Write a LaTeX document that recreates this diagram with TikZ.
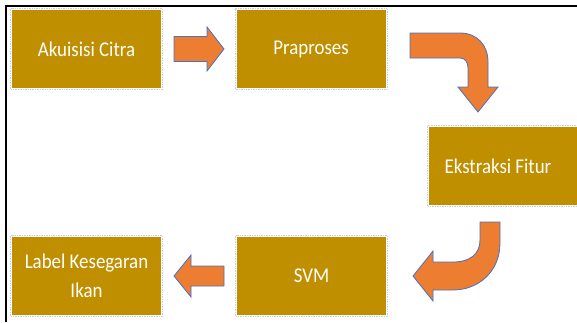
\documentclass[tikz,border=0pt]{standalone}
\usepackage{fontspec}
\setmainfont{Carlito}[FakeStretch=0.9]
\definecolor{boxgold}{RGB}{191,143,0}
\definecolor{arroworange}{RGB}{237,125,49}
\definecolor{arrowedge}{RGB}{68,114,196}
\definecolor{halo}{RGB}{196,206,222}
\begin{document}
\begin{tikzpicture}[x=1pt,y=-1pt,
  stepbox/.style={fill=boxgold, text=white, minimum width=149pt, minimum height=78pt,
    inner sep=0pt, outer sep=0pt, align=center, font=\fontsize{21}{29}\selectfont},
  haloline/.style={draw=halo, densely dotted, line width=0.7pt},
  blockarrow/.style={fill=arroworange, draw=arrowedge, line width=0.8pt, line join=miter}]
\useasboundingbox (0,0) rectangle (577,322);

% frame
\draw[line width=2.4pt, line join=miter] (6,322) -- (6,5.8) -- (577,5.8);

% process steps
\node[stepbox] (acq) at (86.5,49) {Akuisisi Citra};
\node[stepbox] (pre) at (311,49) {Praproses};
\node[stepbox, minimum width=150pt] (fe) at (504,166) {Ekstraksi Fitur\kern12pt};
\node[stepbox] (svm) at (311.5,276) {SVM};
\node[stepbox] (lbl) at (86.5,276) {Label Kesegaran\\Ikan};

\foreach \n in {acq,pre,fe,svm,lbl}
  \draw[haloline] ([shift={(-1.5,-1.5)}]\n.north west) rectangle ([shift={(1.5,1.5)}]\n.south east);

% Akuisisi Citra -> Praproses
\begin{scope}[shift={(acq.east)}]
  \draw[blockarrow] (13,-12.5) -- (46,-12.5) -- (46,-22) -- (63,0) -- (46,22) -- (46,12.5) -- (13,12.5) -- cycle;
\end{scope}

% Praproses -> Ekstraksi Fitur (bent down)
\begin{scope}[shift={(pre.east)}]
  \draw[blockarrow] (24.5,-16) -- (74.5,-16) .. controls (91.5,-16) and (102.5,-4) .. (102.5,13)
    -- (102.5,38) -- (112.5,38) -- (92.5,63) -- (72.5,38) -- (82.5,38) -- (82.5,19)
    .. controls (82.5,13) and (79.5,9) .. (74.5,9) -- (24.5,9) -- cycle;
\end{scope}

% Ekstraksi Fitur -> SVM (bent left)
\begin{scope}[shift={(fe.south)}]
  \draw[blockarrow] (-24,17) -- (-4,17) -- (-4,38) .. controls (-4,67) and (-26,85) .. (-51,85)
    -- (-71,85) -- (-71,96) -- (-91,71) -- (-71,46) -- (-71,57) -- (-51,57)
    .. controls (-34,57) and (-24,49) .. (-24,35) -- cycle;
\end{scope}

% SVM -> Label Kesegaran Ikan
\begin{scope}[shift={(svm.west)}]
  \draw[blockarrow] (-13,-10) -- (-46,-10) -- (-46,-21) -- (-63,0) -- (-46,21) -- (-46,10) -- (-13,10) -- cycle;
\end{scope}
\end{tikzpicture}
\end{document}
